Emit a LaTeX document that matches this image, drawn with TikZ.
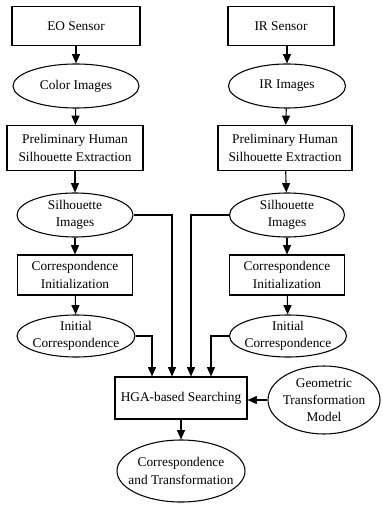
\documentclass[tikz,border=0pt]{standalone}
\usepackage{fontspec}
\setmainfont{Liberation Serif}
\usetikzlibrary{shapes.geometric,arrows.meta}

\begin{document}
\begin{tikzpicture}[->,>={Triangle[length=7pt,width=6pt]},x=0.75pt,y=-0.75pt,line width=0.8pt,
        font=\fontsize{10}{13}\selectfont,
        blk/.style={draw,rectangle,align=center,inner sep=0pt},
        oval/.style={draw,ellipse,align=center,inner xsep=-40pt,inner ysep=-20pt}]
                \useasboundingbox (0,0) rectangle (381,505);
                \node[blk,minimum width=96pt,minimum height=29.25pt] (eo) at (76,26) {EO Sensor};
                \node[oval,minimum width=94.5pt,minimum height=33pt] (col) at (76,86) {Color Images};
                \node[blk,minimum width=102pt,minimum height=33.75pt] (preL) at (75,148) {Preliminary Human\\Silhouette Extraction};
                \node[oval,minimum width=87pt,minimum height=33pt] (silL) at (75,215) {Silhouette\\Images};
                \node[blk,minimum width=86.25pt,minimum height=30pt] (corL) at (75,275) {Correspondence\\Initialization};
                \node[oval,minimum width=88.5pt,minimum height=31.5pt] (iniL) at (76,336) {Initial\\Correspondence};
                \node[blk,minimum width=79.5pt,minimum height=29.25pt] (ir) at (281,26) {IR Sensor};
                \node[oval,minimum width=87.75pt,minimum height=33pt] (irim) at (287,86) {IR Images};
                \node[blk,minimum width=100.5pt,minimum height=33.75pt] (preR) at (285,148) {Preliminary Human\\Silhouette Extraction};
                \node[oval,minimum width=86.25pt,minimum height=33pt] (silR) at (287,215) {Silhouette\\Images};
                \node[blk,minimum width=86.25pt,minimum height=30pt] (corR) at (287,275) {Correspondence\\Initialization};
                \node[oval,minimum width=87.75pt,minimum height=31.5pt] (iniR) at (288,336) {Initial\\Correspondence};
                \node[blk,minimum width=99pt,minimum height=31.5pt] (hga) at (181,398) {HGA-based Searching};
                \node[oval,minimum width=84pt,minimum height=51pt] (geo) at (324,400) {Geometric\\Transformation\\Model};
                \node[oval,minimum width=96pt,minimum height=46.5pt] (out) at (181,471) {Correspondence\\and Transformation};
                \draw (eo) -- (col);
                \draw (col) -- (preL);
                \draw (preL) -- (silL);
                \draw (silL) -- (corL);
                \draw (corL) -- (iniL);
                \draw (ir.south -| irim.north) -- (irim.north);
                \draw (irim) -- (preR);
                \draw (preR) -- (silR);
                \draw (silR) -- (corR);
                \draw (corR) -- (iniR);
                \draw (iniL.east) -| ([xshift=-21.75pt]hga.north);
                \draw (silL.east) -| ([xshift=-6.75pt]hga.north);
                \draw (silR.west) -| ([xshift=7.5pt]hga.north);
                \draw (iniR.west) -| ([xshift=22.5pt]hga.north);
                \draw (geo.west) -- (geo.west -| hga.east);
                \draw (hga) -- (out);
            \end{tikzpicture}
\end{document}
